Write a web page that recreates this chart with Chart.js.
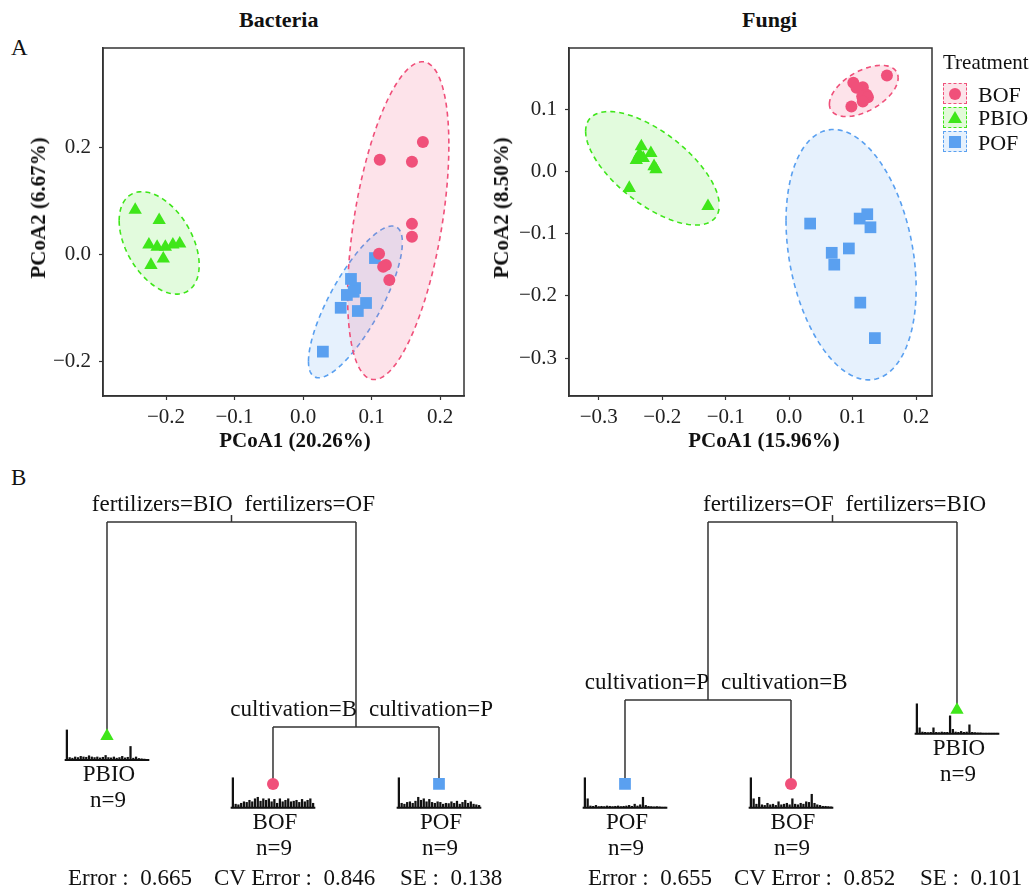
<!DOCTYPE html>
<html>
<head>
<meta charset="utf-8">
<script src="https://cdn.jsdelivr.net/npm/chart.js@4.4.0/dist/chart.umd.min.js"></script>
<style>
body { margin:0; background:#fff; width:1036px; height:890px; position:relative; overflow:hidden;
       font-family:"Liberation Serif", "Times New Roman", serif; color:#111; }
.box { position:absolute; }
.txt { position:absolute; white-space:pre; font-size:23px; line-height:24px; }
.axt { position:absolute; white-space:pre; font-size:21px; line-height:24px; font-weight:bold;
       transform:translate(-50%, -50%); }
.axt.rot { transform:translate(-50%, -50%) rotate(-90deg); }
.key { position:absolute; left:943px; width:22px; height:19px; border:1.5px dashed; }
.key svg { position:absolute; left:4px; top:2px; }
</style>
</head>
<body>
<div class="txt" style="left:11px;top:36px;">A</div>
<div class="txt" style="left:11px;top:466px;">B</div>
<div class="txt" style="left:239px;top:8px;font-weight:bold;font-size:22px;">Bacteria</div>
<div class="txt" style="left:742px;top:8px;font-weight:bold;font-size:22px;">Fungi</div>

<div class="box" style="left:0;top:0;width:470px;height:452px;"><canvas id="bact"></canvas></div>
<div class="box" style="left:470px;top:0;width:566px;height:452px;"><canvas id="fungi"></canvas></div>
<div class="axt" style="left:295px;top:440px;">PCoA1 (20.26%)</div>
<div class="axt rot" style="left:38px;top:208px;">PCoA2 (6.67%)</div>
<div class="axt" style="left:764px;top:440px;">PCoA1 (15.96%)</div>
<div class="axt rot" style="left:501px;top:208px;">PCoA2 (8.50%)</div>

<div class="txt" style="left:943px;top:50px;font-size:21px;">Treatment</div>
<div class="key" style="top:83px;border-color:#F0507A;background:#FCE4EA;"><svg width="14" height="14"><circle cx="7" cy="8" r="6" fill="#F0507A"/></svg></div>
<div class="key" style="top:107px;border-color:#3FE61A;background:#E2FAD9;"><svg width="14" height="14"><polygon points="7,1 14,13 0,13" fill="#3FE61A"/></svg></div>
<div class="key" style="top:131px;border-color:#5AA0F0;background:#E6F1FD;"><svg width="14" height="14"><rect x="1" y="2" width="12" height="12" fill="#5AA0F0"/></svg></div>
<div class="txt" style="left:978px;top:83px;font-size:22px;">BOF</div>
<div class="txt" style="left:978px;top:106px;font-size:22px;">PBIO</div>
<div class="txt" style="left:978px;top:131px;font-size:22px;">POF</div>

<div class="box" style="left:0;top:460px;width:518px;height:430px;"><canvas id="bactTree"></canvas></div>
<div class="box" style="left:518px;top:460px;width:518px;height:430px;"><canvas id="fungiTree"></canvas></div>
<div id="errors"></div>

<script>
var treatments = ["BOF", "PBIO", "POF"];
var colors = ["#F0507A", "#3FE61A", "#5AA0F0"];
var fills = ["rgba(240,80,122,0.16)", "rgba(63,230,26,0.15)", "rgba(90,160,240,0.15)"];
var markers = ["circle", "triangle", "rect"];
var markerRadius = [6, 7.7, 8.3];

// PCoA scores, bacteria
var bactBOF = [[0.112,0.178],[0.159,0.174],[0.175,0.211],[0.159,0.058],[0.159,0.034],
               [0.111,0.002],[0.121,-0.019],[0.117,-0.022],[0.126,-0.047]];
var bactPBIO = [[-0.245,0.084],[-0.210,0.065],[-0.225,0.019],[-0.213,0.015],[-0.201,0.015],
                [-0.190,0.019],[-0.180,0.021],[-0.222,-0.019],[-0.204,-0.007]];
var bactPOF = [[0.105,-0.006],[0.070,-0.045],[0.076,-0.062],[0.064,-0.075],[0.074,-0.069],
               [0.092,-0.090],[0.080,-0.105],[0.055,-0.099],[0.029,-0.181]];

// PCoA scores, fungi
var fungiBOF = [[0.154,0.154],[0.101,0.142],[0.116,0.135],[0.106,0.134],[0.122,0.123],
                [0.115,0.120],[0.124,0.119],[0.116,0.112],[0.098,0.104]];
var fungiPBIO = [[-0.233,0.040],[-0.218,0.029],[-0.236,0.027],[-0.241,0.018],[-0.230,0.021],
                 [-0.213,0.008],[-0.210,0.003],[-0.252,-0.027],[-0.128,-0.056]];
var fungiPOF = [[0.033,-0.084],[0.111,-0.076],[0.123,-0.069],[0.128,-0.090],[0.094,-0.124],
                [0.067,-0.131],[0.071,-0.150],[0.112,-0.211],[0.135,-0.268]];

// ellipses: centre x, centre y, semi-axis A (x, y), semi-axis B (x, y)
var bactEllBOF = [0.139, 0.064, 0.038, 0.297, 0.0634, -0.0133];
var bactEllPBIO = [-0.210, 0.0224, -0.0409, 0.0907, 0.0417, 0.0308];
var bactEllPOF = [0.0765, -0.088, 0.0599, 0.140, 0.0333, -0.0234];
var fungiEllBOF = [0.1175, 0.129, 0.0518, 0.0304, 0.0158, -0.0277];
var fungiEllPBIO = [-0.2155, 0.0048, 0.0993, -0.079, 0.035, 0.0455];
var fungiEllPOF = [0.0975, -0.134, -0.0365, 0.2003, 0.0958, 0.0181];

var bactXTicks = [-0.2, -0.1, 0.0, 0.1, 0.2];
var bactYTicks = [-0.2, 0.0, 0.2];
var fungiXTicks = [-0.3, -0.2, -0.1, 0.0, 0.1, 0.2];
var fungiYTicks = [-0.3, -0.2, -0.1, 0.0, 0.1];

// regression trees
var bactTreeX = [1.75, 1, 2.5, 2, 3];
var bactTreeY = [1.0, 0.23, 0.263, 0.058, 0.058];
var bactTreeParent = [-1, 0, 0, 2, 2];
var bactSplits = [["fertilizers=BIO", "fertilizers=OF"], null, ["cultivation=B", "cultivation=P"], null, null];
var bactLeaves = [null, "PBIO", null, "BOF", "POF"];
var bactHist = {
    PBIO: [1.0,0.08,0.06,0.1,0.08,0.12,0.1,0.09,0.14,0.1,0.08,0.1,0.07,0.09,0.15,0.08,0.07,0.1,0.06,0.08,0.12,0.07,0.09,0.45,0.06,0.1,0.05,0.04,0.03,0.02],
    BOF: [1.0,0.12,0.1,0.15,0.2,0.18,0.25,0.2,0.3,0.35,0.22,0.3,0.25,0.3,0.2,0.28,0.15,0.3,0.2,0.25,0.3,0.2,0.22,0.25,0.18,0.28,0.2,0.25,0.3,0.15],
    POF: [1.0,0.15,0.12,0.18,0.2,0.15,0.22,0.35,0.25,0.3,0.2,0.28,0.18,0.15,0.2,0.18,0.12,0.15,0.14,0.2,0.15,0.22,0.12,0.18,0.25,0.15,0.2,0.12,0.1,0.08]
};
var bactErrors = ["0.665", "0.846", "0.138"];

var fungiTreeX = [2.25, 1.5, 3, 1, 2];
var fungiTreeY = [1.0, 0.36, 0.324, 0.058, 0.058];
var fungiTreeParent = [-1, 0, 0, 1, 1];
var fungiSplits = [["fertilizers=OF", "fertilizers=BIO"], ["cultivation=P", "cultivation=B"], null, null, null];
var fungiLeaves = [null, null, "PBIO", "POF", "BOF"];
var fungiHist = {
    POF: [1.0,0.3,0.06,0.05,0.08,0.04,0.05,0.04,0.06,0.05,0.04,0.05,0.06,0.04,0.05,0.06,0.08,0.05,0.12,0.06,0.1,0.35,0.08,0.05,0.04,0.03,0.04,0.03,0.02,0.02],
    BOF: [1.0,0.3,0.12,0.35,0.1,0.08,0.15,0.1,0.12,0.08,0.2,0.1,0.12,0.15,0.1,0.3,0.12,0.1,0.15,0.12,0.2,0.18,0.45,0.15,0.1,0.08,0.05,0.05,0.04,0.03],
    PBIO: [1.0,0.2,0.06,0.05,0.04,0.05,0.2,0.05,0.04,0.06,0.05,0.05,0.6,0.15,0.06,0.05,0.08,0.05,0.06,0.3,0.05,0.04,0.03,0.03,0.02,0.02,0.02,0.02,0.02,0.02]
};
var fungiErrors = ["0.655", "0.852", "0.101"];
var leafN = 9;

var serif = "Liberation Serif";

function fmt(v) {
    return v.toFixed(1).replace("-", "\u2212");
}

function ellipseArcs(e) {
    var t0 = Math.atan2(e[4], e[2]);
    var arcs = [[], []];
    for (var k = 0; k < 2; k++) {
        for (var i = 0; i <= 72; i++) {
            var t = t0 + Math.PI * (k + i / 72);
            arcs[k].push({x: e[0] + e[2] * Math.cos(t) + e[4] * Math.sin(t),
                          y: e[1] + e[3] * Math.cos(t) + e[5] * Math.sin(t)});
        }
        arcs[k].sort((a, b) => a.x - b.x);
    }
    return arcs;
}

function pcoaDatasets(groups, ells) {
    var ds = [];
    groups.forEach((g, i) => {
        ds.push({
            label: treatments[i],
            data: g.map(p => ({x: p[0], y: p[1]})),
            pointStyle: markers[i], pointRadius: markerRadius[i],
            pointBackgroundColor: colors[i], pointBorderWidth: 0,
            showLine: false, order: 0
        });
    });
    ells.forEach((e, i) => {
        var arcs = ellipseArcs(e);
        ds.push({ data: arcs[0], showLine: true, pointRadius: 0, borderColor: colors[i], borderWidth: 1.6,
                  borderDash: [5, 4], backgroundColor: fills[i], fill: "+1", order: 1 });
        ds.push({ data: arcs[1], showLine: true, pointRadius: 0, borderColor: colors[i], borderWidth: 1.6,
                  borderDash: [5, 4], fill: false, order: 1 });
    });
    return ds;
}

function axis(pos, min, max, ticks, size) {
    return {
        type: "linear", position: pos, min: min, max: max,
        afterBuildTicks: s => { s.ticks = ticks.map(v => ({value: v})); },
        afterFit: s => { if (pos === "left") s.width = size; else s.height = size; },
        ticks: { callback: v => fmt(v), font: {family: serif, size: 21}, color: "#222",
                 padding: pos === "left" ? 8 : 5, maxRotation: 0, autoSkip: false },
        grid: { drawOnChartArea: false, drawTicks: true, tickLength: 4, color: "#333", tickWidth: 1.2 },
        border: { display: true, color: "#333", width: 1.5 },
        title: { display: false }
    };
}

var framePlugin = {
    id: "frame",
    afterDraw(chart) {
        var a = chart.chartArea, c = chart.ctx;
        c.save();
        c.strokeStyle = "#333";
        c.lineWidth = 1.5;
        c.strokeRect(a.left, a.top, a.right - a.left, a.bottom - a.top);
        c.restore();
    }
};

function pcoaChart(id, groups, ells, xr, yr, xt, yt, padRight, yWidth) {
    new Chart(document.getElementById(id), {
        type: "scatter",
        data: { datasets: pcoaDatasets(groups, ells) },
        options: {
            responsive: true, maintainAspectRatio: false, animation: false,
            layout: { padding: {top: 48, right: padRight, left: 0, bottom: 0}, autoPadding: false },
            plugins: { legend: {display: false}, tooltip: {enabled: false} },
            scales: {
                x: axis("bottom", xr[0], xr[1], xt, 56),
                y: axis("left", yr[0], yr[1], yt, yWidth)
            }
        },
        plugins: [framePlugin]
    });
}

pcoaChart("bact", [bactBOF, bactPBIO, bactPOF], [bactEllBOF, bactEllPBIO, bactEllPOF],
          [-0.292, 0.235], [-0.264, 0.387], bactXTicks, bactYTicks, 6, 103);
pcoaChart("fungi", [fungiBOF, fungiPBIO, fungiPOF], [fungiEllBOF, fungiEllPBIO, fungiEllPOF],
          [-0.347, 0.225], [-0.361, 0.198], fungiXTicks, fungiYTicks, 104, 99);

// ---- trees ----
function treeDatasets(X, Y, P, leaves, hist) {
    var ds = [];
    var seg = (pts, w) => ds.push({ type: "scatter", data: pts, showLine: true, pointRadius: 0,
                                    borderColor: w ? "#111" : "#333", borderWidth: w || 1.5, fill: false, order: 2 });
    X.forEach((x, i) => {
        var kids = [];
        P.forEach((p, j) => { if (p === i) kids.push(j); });
        if (kids.length) {
            seg([{x: X[kids[0]], y: Y[i]}, {x: X[kids[1]], y: Y[i]}]);
            kids.forEach(k => seg([{x: X[k], y: Y[i]}, {x: X[k], y: Y[k]}]));
        }
    });
    seg([{x: X[0], y: Y[0]}, {x: X[0], y: Y[0] + 0.025}]);

    var bars = [];
    leaves.forEach((name, i) => {
        if (!name) return;
        var t = treatments.indexOf(name);
        var base = Y[i] - 0.086;
        var h = hist[name];
        h.forEach((v, k) => bars.push({x: X[i] - 0.25 + (k + 0.5) * 0.5 / h.length, y: [base, base + v * 0.108]}));
        seg([{x: X[i] - 0.255, y: base}, {x: X[i] + 0.255, y: base}], 2);
        ds.push({ type: "scatter", data: [{x: X[i], y: Y[i]}], pointStyle: markers[t],
                  pointRadius: markerRadius[t], pointBackgroundColor: colors[t], pointBorderWidth: 0, order: 0 });
    });
    ds.push({ type: "bar", data: bars, backgroundColor: "#111", barThickness: 1.6, grouped: false, order: 3 });
    return ds;
}

var treeLabelPlugin = {
    id: "treeLabels",
    afterDatasetsDraw(chart, args, o) {
        var c = chart.ctx, sx = chart.scales.x, sy = chart.scales.y;
        c.save();
        c.font = "23px '" + serif + "'";
        c.fillStyle = "#111";
        c.textBaseline = "middle";
        o.X.forEach((x, i) => {
            var px = sx.getPixelForValue(x), py = sy.getPixelForValue(o.Y[i]);
            if (o.splits[i]) {
                c.textAlign = "right";
                c.fillText(o.splits[i][0], px + 1, py - 17);
                c.textAlign = "left";
                c.fillText(o.splits[i][1], px + 13, py - 17);
            }
            if (o.leaves[i]) {
                c.textAlign = "center";
                c.fillText(o.leaves[i], px + 2, py + 39);
                c.fillText("n=" + leafN, px + 1, py + 65);
            }
        });
        c.restore();
    }
};

function treeChart(id, X, Y, P, splits, leaves, hist) {
    new Chart(document.getElementById(id), {
        type: "scatter",
        data: { datasets: treeDatasets(X, Y, P, leaves, hist) },
        options: {
            responsive: true, maintainAspectRatio: false, animation: false,
            layout: { padding: 0, autoPadding: false },
            plugins: { legend: {display: false}, tooltip: {enabled: false},
                       treeLabels: {X: X, Y: Y, splits: splits, leaves: leaves} },
            scales: {
                x: { type: "linear", display: false, offset: false, min: 0.3554, max: 3.476 },
                y: { type: "linear", display: false, offset: false, min: -0.3237, max: 1.223 }
            }
        },
        plugins: [treeLabelPlugin]
    });
}

treeChart("bactTree", bactTreeX, bactTreeY, bactTreeParent, bactSplits, bactLeaves, bactHist);
treeChart("fungiTree", fungiTreeX, fungiTreeY, fungiTreeParent, fungiSplits, fungiLeaves, fungiHist);

// error summary lines under each tree
var errBox = document.getElementById("errors");
[[0, bactErrors], [520, fungiErrors]].forEach(function(e) {
    var labels = ["Error :  ", "CV Error :  ", "SE :  "];
    var offs = [68, 214, 400];
    labels.forEach(function(l, i) {
        var d = document.createElement("div");
        d.className = "txt";
        d.style.left = (e[0] + offs[i]) + "px";
        d.style.top = "866px";
        d.textContent = l + e[1][i];
        errBox.appendChild(d);
    });
});
</script>
</body>
</html>
